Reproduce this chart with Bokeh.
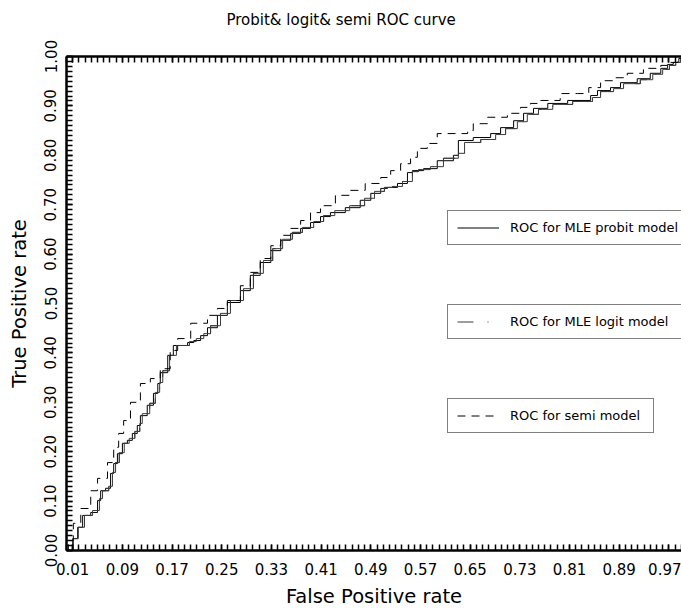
from bokeh.plotting import figure
from bokeh.models import (Range1d, FixedTicker, PrintfTickFormatter, LinearAxis,
                          Legend, LegendItem, Title, CustomJSTickFormatter)
from bokeh.embed import file_html
from bokeh.resources import INLINE

title_text = "Probit& logit& semi ROC curve"
x_title = "False Positive rate"
y_title = "True Positive rate"

x_ticks = [0.01, 0.09, 0.17, 0.25, 0.33, 0.41, 0.49, 0.57, 0.65, 0.73, 0.81, 0.89, 0.97]
y_ticks = [0.0, 0.1, 0.2, 0.3, 0.4, 0.5, 0.6, 0.7, 0.8, 0.9, 1.0]
minor_ticks = [i / 100 for i in range(0, 101)]

probit_fpr = [0.000, 0.010, 0.018, 0.026, 0.039, 0.050, 0.055, 0.063, 0.071, 0.076, 0.082, 0.090,
              0.098, 0.106, 0.114, 0.119, 0.130, 0.140, 0.147, 0.151, 0.163, 0.172, 0.195, 0.205,
              0.216, 0.227, 0.243, 0.259, 0.280, 0.296, 0.312, 0.329, 0.345, 0.361, 0.377, 0.393,
              0.409, 0.425, 0.449, 0.473, 0.490, 0.506, 0.517, 0.533, 0.549, 0.557, 0.575, 0.597,
              0.623, 0.631, 0.655, 0.683, 0.699, 0.720, 0.736, 0.752, 0.775, 0.807, 0.844, 0.855,
              0.876, 0.892, 0.919, 0.940, 0.957, 0.968, 0.977, 0.986, 1.000]
probit_tpr = [0.000, 0.024, 0.047, 0.071, 0.077, 0.101, 0.121, 0.126, 0.156, 0.176, 0.196, 0.217,
              0.223, 0.237, 0.253, 0.273, 0.294, 0.318, 0.338, 0.360, 0.395, 0.415, 0.421, 0.425,
              0.435, 0.451, 0.476, 0.502, 0.526, 0.557, 0.583, 0.607, 0.628, 0.642, 0.652, 0.664,
              0.676, 0.684, 0.694, 0.709, 0.723, 0.733, 0.735, 0.743, 0.765, 0.769, 0.773, 0.789,
              0.800, 0.830, 0.836, 0.844, 0.856, 0.870, 0.885, 0.895, 0.905, 0.911, 0.921, 0.931,
              0.937, 0.947, 0.955, 0.966, 0.976, 0.984, 0.988, 0.996, 1.000]

logit_fpr = [0.000, 0.011, 0.019, 0.029, 0.042, 0.053, 0.058, 0.068, 0.074, 0.079, 0.085, 0.093,
             0.101, 0.110, 0.118, 0.122, 0.134, 0.143, 0.150, 0.155, 0.166, 0.177, 0.198, 0.209,
             0.221, 0.232, 0.248, 0.264, 0.285, 0.301, 0.317, 0.332, 0.348, 0.364, 0.380, 0.398,
             0.414, 0.432, 0.456, 0.480, 0.496, 0.512, 0.525, 0.541, 0.557, 0.567, 0.586, 0.607,
             0.631, 0.641, 0.667, 0.691, 0.707, 0.726, 0.742, 0.760, 0.783, 0.815, 0.847, 0.860,
             0.881, 0.897, 0.924, 0.944, 0.960, 0.971, 0.981, 0.989, 1.000]
logit_tpr = [0.000, 0.024, 0.047, 0.071, 0.081, 0.105, 0.121, 0.130, 0.158, 0.178, 0.198, 0.217,
             0.227, 0.241, 0.257, 0.277, 0.298, 0.320, 0.340, 0.364, 0.395, 0.415, 0.423, 0.429,
             0.439, 0.455, 0.480, 0.506, 0.530, 0.561, 0.587, 0.611, 0.630, 0.644, 0.654, 0.666,
             0.678, 0.688, 0.698, 0.713, 0.727, 0.735, 0.737, 0.747, 0.767, 0.771, 0.777, 0.794,
             0.804, 0.826, 0.832, 0.842, 0.854, 0.868, 0.883, 0.893, 0.903, 0.909, 0.917, 0.929,
             0.935, 0.945, 0.953, 0.964, 0.974, 0.982, 0.988, 0.996, 1.000]

semi_fpr = [0.000, 0.003, 0.011, 0.023, 0.039, 0.050, 0.066, 0.076, 0.084, 0.092, 0.103, 0.119,
            0.135, 0.151, 0.167, 0.179, 0.200, 0.227, 0.243, 0.259, 0.280, 0.296, 0.312, 0.329,
            0.345, 0.361, 0.377, 0.393, 0.409, 0.433, 0.457, 0.481, 0.506, 0.522, 0.538, 0.554,
            0.565, 0.581, 0.597, 0.614, 0.646, 0.655, 0.678, 0.710, 0.731, 0.747, 0.763, 0.795,
            0.823, 0.841, 0.860, 0.881, 0.903, 0.929, 0.957, 0.973, 0.984, 1.000]
semi_tpr = [0.000, 0.020, 0.055, 0.085, 0.121, 0.146, 0.178, 0.209, 0.237, 0.263, 0.300, 0.338,
            0.348, 0.368, 0.405, 0.429, 0.460, 0.476, 0.490, 0.506, 0.536, 0.563, 0.591, 0.617,
            0.638, 0.652, 0.668, 0.684, 0.698, 0.719, 0.729, 0.743, 0.755, 0.769, 0.783, 0.796,
            0.814, 0.824, 0.844, 0.844, 0.850, 0.864, 0.877, 0.885, 0.897, 0.905, 0.911, 0.925,
            0.925, 0.937, 0.951, 0.957, 0.966, 0.976, 0.982, 0.988, 0.996, 1.000]

legend_labels = ["ROC for MLE probit model", "ROC for MLE logit model", "ROC for semi model"]

FONT = "DejaVu Sans"

p = figure(width=681, height=613, x_range=Range1d(0, 0.9903), y_range=Range1d(0, 1.0),
           output_backend="svg", toolbar_location=None,
           min_border_left=66, min_border_right=0, min_border_top=56, min_border_bottom=63)
p.outline_line_color = None
p.grid.visible = False
p.background_fill_color = "white"
p.border_fill_color = "white"

# trailing newline makes the title box two lines tall so the text sits near the top edge
p.title = Title(text=title_text + "\n", align="left", offset=160, standoff=16,
                vertical_align="top",
                text_font=FONT, text_font_size="15px", text_font_style="normal",
                text_color="black")

def style_axis(ax):
    ax.axis_line_width = 2.5
    ax.axis_line_color = "black"
    ax.major_tick_in = 6
    ax.major_tick_out = 0
    ax.minor_tick_in = 6
    ax.minor_tick_out = 0
    ax.major_tick_line_width = 1.5
    ax.minor_tick_line_width = 1.5
    ax.major_tick_line_color = "black"
    ax.minor_tick_line_color = "black"
    ax.major_label_text_font = FONT
    ax.major_label_text_font_size = "15px"
    ax.major_label_text_color = "black"
    ax.axis_label_text_font = FONT
    ax.axis_label_text_font_size = "19.5px"
    ax.axis_label_text_font_style = "normal"
    ax.axis_label_text_color = "black"

xax = p.xaxis[0]
xax.ticker = FixedTicker(ticks=x_ticks, minor_ticks=minor_ticks)
xax.formatter = PrintfTickFormatter(format="%.2f")
xax.axis_label = x_title
style_axis(xax)
xax.major_label_standoff = 12
xax.axis_label_standoff = 7

yax = p.yaxis[0]
yax.ticker = FixedTicker(ticks=y_ticks, minor_ticks=minor_ticks)
yax.formatter = PrintfTickFormatter(format="%.2f")
yax.axis_label = y_title
yax.major_label_orientation = "vertical"
style_axis(yax)
yax.major_label_standoff = 10
yax.axis_label_standoff = 11

top = LinearAxis(ticker=FixedTicker(ticks=x_ticks, minor_ticks=minor_ticks),
                 formatter=CustomJSTickFormatter(code="return ''"))
style_axis(top)
top.major_label_standoff = 0
p.add_layout(top, "above")

r_probit = p.step(probit_fpr, probit_tpr, mode="after", line_color="black", line_width=1)
p.step(logit_fpr, logit_tpr, mode="after", line_color="#3a3a3a", line_width=1)
r_logit = p.step(logit_fpr, logit_tpr, mode="after", line_color="#3a3a3a", line_width=1,
                 line_dash="16 14 1 14")
r_semi = p.step(semi_fpr, semi_tpr, mode="after", line_color="black", line_width=1,
                line_dash="8 6")

def add_legend(label, renderer, loc, lw):
    lg = Legend(items=[LegendItem(label=label, renderers=[renderer])], location=loc,
                orientation="vertical", padding=9, margin=0, spacing=0,
                glyph_width=42, glyph_height=15, label_standoff=11, label_height=15,
                label_width=lw,
                label_text_font=FONT, label_text_font_size="13px", label_text_color="black",
                border_line_color="black", border_line_width=1,
                background_fill_color="white", background_fill_alpha=1.0)
    p.add_layout(lg, "center")

add_legend(legend_labels[0], r_probit, (381, 305), 172)
add_legend(legend_labels[1], r_logit, (381, 211), 162)
add_legend(legend_labels[2], r_semi, (381, 117), 134)

open("out.html", "w").write(file_html(p, INLINE))
